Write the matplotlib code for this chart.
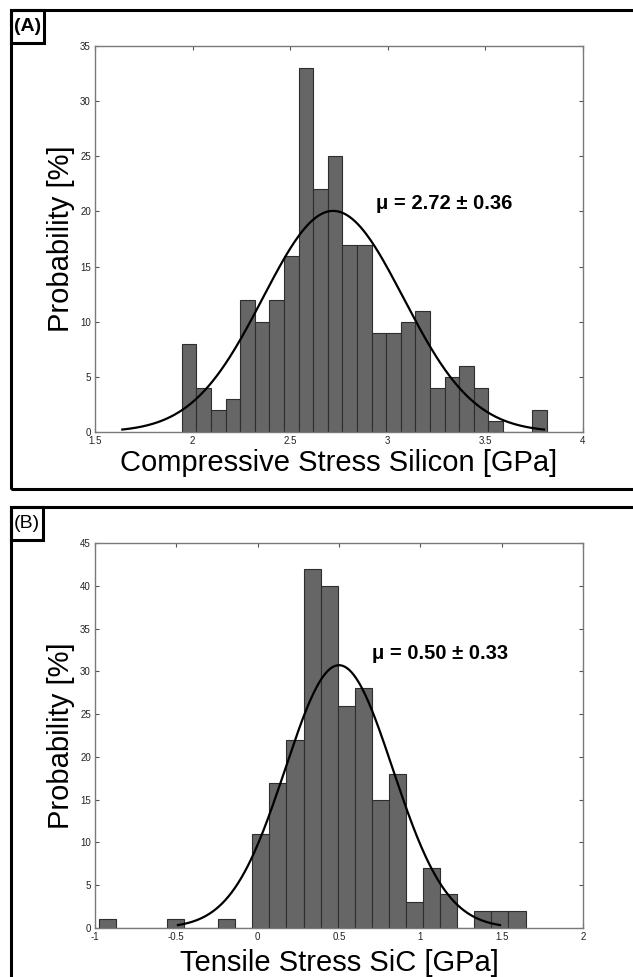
import matplotlib
matplotlib.use('Agg')
import matplotlib.pyplot as plt
from matplotlib.patches import Rectangle
import numpy as np

plt.rcParams['font.family'] = ['Liberation Sans', 'DejaVu Sans']

# Panel A data (counts per bin, compressive stress in silicon)
a_counts = [8, 4, 2, 3, 12, 10, 12, 16, 33, 22, 25, 17, 17, 9, 9, 10, 11, 4, 5, 6, 4, 1, 0, 0, 2]
a_range = (1.945, 3.814)
a_mu = 2.72
a_sigma = 0.36
a_xticks = [1.5, 2, 2.5, 3, 3.5, 4]
a_yticks = [0, 5, 10, 15, 20, 25, 30, 35]

# Panel B data (counts per bin, tensile stress in SiC)
b_counts = [1, 0, 0, 0, 1, 0, 0, 1, 0, 11, 17, 22, 42, 40, 26, 28, 15, 18, 3, 7, 4, 0, 2, 2, 2]
b_range = (-0.978, 1.647)
b_mu = 0.50
b_sigma = 0.33
b_xticks = [-1, -0.5, 0, 0.5, 1, 1.5, 2]
b_yticks = [0, 5, 10, 15, 20, 25, 30, 35, 40, 45]

W, H = 633, 977
fig = plt.figure(figsize=(W/100, H/100), dpi=100)


def px_rect(x0, y0, x1, y1):
    # pixel box -> figure fraction [left, bottom, width, height]
    return [x0/W, 1 - y1/H, (x1-x0)/W, (y1-y0)/H]


def hist_panel(rect, counts, rng, mu, sigma, xticks, yticks, xlabel, note, note_xy, xlab_y):
    ax = fig.add_axes(rect)
    counts = np.array(counts)
    edges = np.linspace(rng[0], rng[1], len(counts)+1)
    width = edges[1] - edges[0]
    centers = (edges[:-1] + edges[1:]) / 2
    ax.bar(centers, counts, width=width, color='#666666', edgecolor='#2e2e2e', linewidth=0.8, zorder=2)

    # fitted normal curve, scaled to the histogram (mu +/- 3 sigma)
    x = np.linspace(mu - 3*sigma, mu + 3*sigma, 300)
    y = counts.sum()*width/(sigma*np.sqrt(2*np.pi))*np.exp(-0.5*((x-mu)/sigma)**2)
    ax.plot(x, y, color='black', lw=1.6, zorder=3)

    ax.set_xlim(xticks[0], xticks[-1])
    ax.set_ylim(yticks[0], yticks[-1])
    ax.set_xticks(xticks)
    ax.set_yticks(yticks)
    ax.set_xticklabels([('%g' % t) for t in xticks])
    ax.tick_params(direction='in', length=3, width=0.8, color='#555555', labelsize=7,
                   labelcolor='#222222', top=True, right=True, pad=3)
    for s in ax.spines.values():
        s.set_color('#7a7a7a')
        s.set_linewidth(1.0)

    ax.set_xlabel(xlabel, fontsize=21, va='top')
    ax.xaxis.set_label_coords(0.5, xlab_y)
    ax.set_ylabel('Probability [%]', fontsize=21)
    ax.yaxis.set_label_coords(-0.042, 0.5)
    ax.text(note_xy[0], note_xy[1], note, fontsize=14.5, fontweight='bold', va='center', ha='left')
    return ax


hist_panel(px_rect(95, 46, 583, 432), a_counts, a_range, a_mu, a_sigma, a_xticks, a_yticks,
           'Compressive Stress Silicon [GPa]', 'μ = %.2f ± %.2f' % (a_mu, a_sigma), (2.94, 20.7), -0.045)
hist_panel(px_rect(95, 543, 583, 928), b_counts, b_range, b_mu, b_sigma, b_xticks, b_yticks,
           'Tensile Stress SiC [GPa]', 'μ = %.2f ± %.2f' % (b_mu, b_sigma), (0.70, 32.1), -0.055)

# panel frames and (A)/(B) tags
for (x0, y0, x1, y1) in [(11, 10, 660, 489), (11, 507, 660, 1000)]:
    r = px_rect(x0, y0, x1, y1)
    fig.patches.append(Rectangle((r[0], r[1]), r[2], r[3], transform=fig.transFigure,
                                 fill=False, lw=2.2, ec='black', clip_on=False))
for (x0, y0, x1, y1), tag, wt in [((11, 10, 44, 43), '(A)', 'bold'), ((11, 507, 43, 540), '(B)', 'normal')]:
    r = px_rect(x0, y0, x1, y1)
    fig.patches.append(Rectangle((r[0], r[1]), r[2], r[3], transform=fig.transFigure,
                                 fill=False, lw=2.2, ec='black', clip_on=False))
    fig.text(r[0] + r[2]/2, r[1] + r[3]/2, tag, fontsize=14, fontweight=wt, ha='center', va='center')

fig.savefig('out.png', dpi=100)
